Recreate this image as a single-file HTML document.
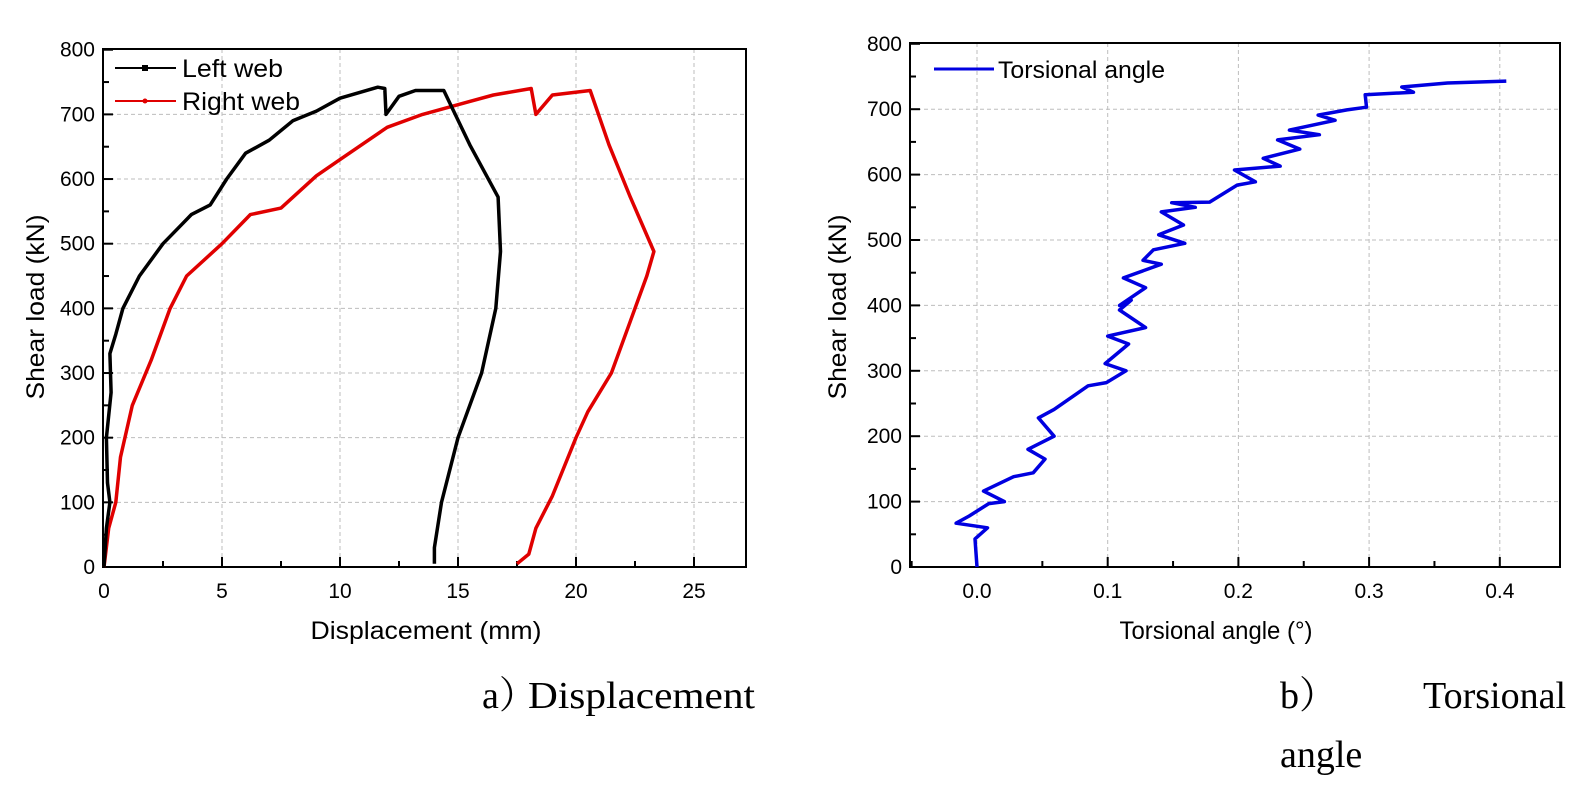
<!DOCTYPE html>
<html><head><meta charset="utf-8"><style>
html,body{margin:0;padding:0;background:#fff}
body{width:1574px;height:798px;overflow:hidden;position:relative}
svg{position:absolute;left:0;top:0}
text{font-family:"Liberation Sans",Arial,sans-serif;fill:#000}
.cap{font-family:"Liberation Serif","Noto Serif CJK SC",serif;font-size:38px}
</style></head><body>
<svg id="s" width="1574" height="798" xmlns="http://www.w3.org/2000/svg"></svg>
<script>
const NS="http://www.w3.org/2000/svg",S=document.getElementById('s');
function el(t,a,txt){const e=document.createElementNS(NS,t);for(const k in a)e.setAttribute(k,a[k]);if(txt!==undefined)e.textContent=txt;S.appendChild(e);return e;}
function chart(o){
 const X=v=>o.x0+(v-o.xmin)*o.xs, Y=v=>o.y0-(v)*o.ys;
 o.xgrid.forEach(v=>el('line',{x1:X(v),x2:X(v),y1:o.top,y2:o.bot,stroke:'#bdbdbd','stroke-width':1,'stroke-dasharray':'4,3'}));
 for(let v=100;v<800;v+=100)el('line',{x1:o.left,x2:o.right,y1:Y(v),y2:Y(v),stroke:'#bdbdbd','stroke-width':1,'stroke-dasharray':'4,3'});
 o.xticks.forEach(v=>el('line',{x1:X(v),x2:X(v),y1:o.bot,y2:o.bot-10,stroke:'#000','stroke-width':2}));
 o.xminor.forEach(v=>el('line',{x1:X(v),x2:X(v),y1:o.bot,y2:o.bot-6,stroke:'#000','stroke-width':2}));
 for(let v=0;v<=800;v+=50)el('line',{x1:o.left,x2:o.left+(v%100?6:10),y1:Y(v),y2:Y(v),stroke:'#000','stroke-width':2});
 o.xticks.forEach((v,i)=>el('text',{x:X(v),y:o.bot+31,'font-size':21,'text-anchor':'middle'},o.xl[i]));
 for(let v=0;v<=800;v+=100)el('text',{x:o.left-8,y:Y(v)+7,'font-size':21,'text-anchor':'end'},v);
 el('rect',{x:o.left,y:o.top,width:o.right-o.left,height:o.bot-o.top,fill:'none',stroke:'#000','stroke-width':2});
 el('text',{x:o.xlc,y:o.bot+72,'font-size':25,'text-anchor':'middle',textLength:o.xlw,lengthAdjust:'spacingAndGlyphs'},o.xlabel);
 el('text',{x:0,y:0,'font-size':25,'text-anchor':'middle',textLength:185,lengthAdjust:'spacingAndGlyphs',transform:`translate(${o.ylx},${o.ylc}) rotate(-90)`},'Shear load (kN)');
 return [X,Y];
}
function path(pts,X,Y,col,w){el('polyline',{points:pts.map(p=>X(p[0]).toFixed(1)+','+Y(p[1]).toFixed(1)).join(' '),fill:'none',stroke:col,'stroke-width':w,'stroke-linejoin':'round'});}
let [X1,Y1]=chart({x0:104,xmin:0,xs:23.6,y0:567,ys:0.6466,left:103,right:746,top:49,bot:567,
 xgrid:[5,10,15,20,25],xticks:[0,5,10,15,20,25],xl:['0','5','10','15','20','25'],xminor:[2.5,7.5,12.5,17.5,22.5],xlabel:'Displacement (mm)',xlc:426,xlw:231,ylx:44,ylc:307});
const lw=[[0,0],[0.1,60],[0.25,100],[0.15,130],[0.1,200],[0.3,270],[0.25,330],[0.5,360],[0.8,400],[1.5,450],[2.5,500],[3.3,530],[3.7,545],[4.5,560],[5.2,600],[6,640],[7,660],[8,690],[9,705],[10,725],[11.6,742],[11.9,740],[11.95,700],[12.5,728],[13.2,737],[14.4,737],[15.5,653],[16.7,572],[16.8,488],[16.6,400],[16,300],[15,200],[14.3,100],[14,30],[14,5]];
const rw=[[0,0],[0.2,60],[0.5,100],[0.7,170],[1.2,250],[2,320],[2.8,400],[3.5,450],[5,500],[6.2,545],[7.5,555],[9,605],[10,630],[12,680],[13.5,700],[15.5,720],[16.5,730],[18.1,740],[18.3,700],[19,730],[20.6,737],[21.4,653],[22.3,572],[23.3,488],[23,450],[22.3,380],[21.5,300],[20.5,240],[20,200],[19,110],[18.3,60],[18,20],[17.5,5]];
path(rw,X1,Y1,'#e00000',3.5);
path(lw,X1,Y1,'#000',3.5);
el('line',{x1:115,x2:176,y1:68,y2:68,stroke:'#000','stroke-width':2});el('rect',{x:142,y:65,width:6,height:6,fill:'#000'});
el('text',{x:182,y:77,'font-size':25,textLength:101,lengthAdjust:'spacingAndGlyphs'},'Left web');
el('line',{x1:115,x2:176,y1:101,y2:101,stroke:'#e00000','stroke-width':2});el('circle',{cx:145,cy:101,r:2.5,fill:'#e00000'});
el('text',{x:182,y:110,'font-size':25,textLength:118,lengthAdjust:'spacingAndGlyphs'},'Right web');
let [X2,Y2]=chart({x0:977,xmin:0,xs:1307,y0:567,ys:0.654,left:910,right:1560,top:43,bot:567,
 xgrid:[0,0.1,0.2,0.3,0.4],xticks:[0,0.1,0.2,0.3,0.4],xl:['0.0','0.1','0.2','0.3','0.4'],xminor:[-0.05,0.05,0.15,0.25,0.35],xlabel:'Torsional angle (°)',xlc:1216,xlw:193,ylx:846,ylc:307});
const ta=[[0,0],[-0.0015,43],[0.008,60],[-0.016,67],[-0.006,78],[0.009,97],[0.021,100],[0.005,116],[0.028,138],[0.043,144],[0.052,165],[0.039,180],[0.059,200],[0.047,228],[0.059,241],[0.085,277],[0.099,282],[0.114,300],[0.098,311],[0.116,341],[0.1,353],[0.129,366],[0.109,393],[0.118,408],[0.109,400],[0.129,427],[0.112,442],[0.141,463],[0.127,469],[0.135,485],[0.159,495],[0.139,508],[0.158,523],[0.141,543],[0.167,550],[0.149,557],[0.178,558],[0.199,584],[0.213,589],[0.197,607],[0.232,613],[0.219,625],[0.247,639],[0.23,653],[0.262,661],[0.239,668],[0.274,683],[0.261,691],[0.283,699],[0.298,703],[0.297,722],[0.334,726],[0.325,734],[0.36,740],[0.405,743]];
path(ta,X2,Y2,'#0000e0',3.5);
el('line',{x1:934,x2:994,y1:69,y2:69,stroke:'#0000e0','stroke-width':3});
el('text',{x:998,y:78,'font-size':24,textLength:167,lengthAdjust:'spacingAndGlyphs'},'Torsional angle');
el('text',{x:482,y:708,class:'cap'},'a）');
el('text',{x:528,y:708,class:'cap',textLength:227,lengthAdjust:'spacingAndGlyphs'},'Displacement');
el('text',{x:1280,y:708,class:'cap'},'b）');
el('text',{x:1566,y:708,class:'cap','text-anchor':'end'},'Torsional');
el('text',{x:1280,y:767,class:'cap'},'angle');
</script>
</body></html>
